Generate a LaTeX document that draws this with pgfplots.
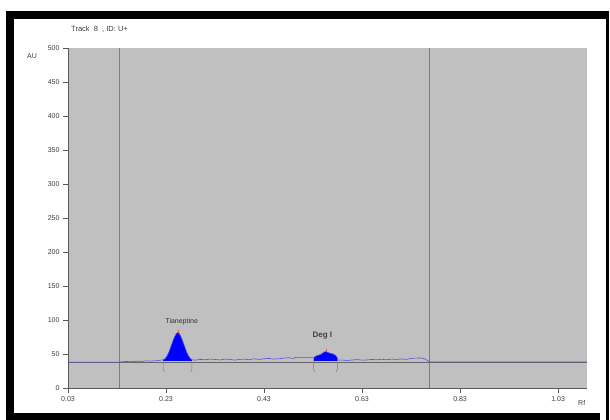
\documentclass[border=0pt]{standalone}
\usepackage{fontspec}
\setmainfont{Liberation Sans}
\usepackage{pgfplots}
\pgfplotsset{compat=1.18}
\definecolor{bggray}{RGB}{192,192,192}
\definecolor{tracec}{RGB}{80,80,230}
\definecolor{vlinec}{RGB}{105,135,135}
\definecolor{txtc}{RGB}{60,60,60}
\definecolor{brc}{RGB}{215,95,70}
\begin{document}
\begin{tikzpicture}
\path[use as bounding box] (0pt,0pt) rectangle (610pt,420pt);
% frame
\fill[black] (6pt,0pt) rectangle (14pt,409pt);
\fill[black] (6pt,401pt) rectangle (609pt,409pt);
\fill[black] (6pt,0pt) rectangle (600pt,7pt);
\fill[black] (606pt,0pt) rectangle (609pt,409pt);
\node[anchor=west,font=\fontsize{7.5}{8}\selectfont,text=txtc,inner sep=0pt] at (71pt,391pt) {Track \ 8 \ , ID: U+};
\node[anchor=west,font=\fontsize{7}{8}\selectfont,text=txtc,inner sep=0pt] at (27pt,364pt) {AU};
\node[anchor=west,font=\fontsize{7}{8}\selectfont,text=txtc,inner sep=0pt] at (578pt,17pt) {Rf};
\begin{axis}[
  scale only axis,
  width=519pt, height=340pt,
  at={(68pt,32pt)}, anchor=south west,
  xmin=0.03, xmax=1.089, ymin=0, ymax=500,
  axis background/.style={fill=bggray},
  axis x line*=bottom, axis y line*=left,
  axis line style={draw=black!65, -},
  tick align=outside,
  major tick length=5pt,
  tick style={draw=black!65, thin},
  ytick={0,50,...,500},
  xtick={0.03,0.23,0.43,0.63,0.83,1.03},
  xticklabels={0.03,0.23,0.43,0.63,0.83,1.03},
  yticklabel style={font=\fontsize{7}{8}\selectfont, text=txtc},
  xticklabel style={font=\fontsize{7}{8}\selectfont, text=txtc},
  /pgf/number format/assume math mode=true,
  clip=false,
]
% vertical lines
\addplot[vlinec, line width=0.6pt] coordinates {(0.134,0) (0.134,500)};
\addplot[vlinec, line width=0.6pt] coordinates {(0.767,0) (0.767,500)};
% baseline
\addplot[black!60, line width=0.6pt] coordinates {(0.03,37.5) (1.089,37.5)};
% filled peaks
\addplot[fill=blue, draw=none] coordinates {
(0.224,40.5) (0.228,43) (0.232,47) (0.236,53) (0.240,61) (0.244,69) (0.248,76) (0.251,80) (0.254,81.5) (0.257,80) (0.260,76) (0.264,69) (0.268,61) (0.272,53) (0.276,47) (0.280,43) (0.283,41) (0.283,40) (0.224,40)} -- cycle;
\addplot[fill=blue, draw=none] coordinates {
(0.531,40) (0.532,45) (0.536,47) (0.540,48) (0.545,49) (0.549,51) (0.553,53) (0.557,53.5) (0.561,52) (0.566,51) (0.571,50) (0.576,48) (0.579,45) (0.580,40)} -- cycle;
% trace
\addplot[tracec, line width=0.6pt] coordinates {
(0.03,38) (0.134,38) (0.14,38.5) (0.15,39) (0.16,38.5) (0.17,39.5) (0.18,39) (0.19,40) (0.20,39.5) (0.21,40.2) (0.218,40.8) (0.224,41.5)
(0.228,43) (0.232,47) (0.236,53) (0.240,61) (0.244,69) (0.248,76) (0.251,80) (0.254,81.5) (0.257,80) (0.260,76) (0.264,69) (0.268,61) (0.272,53) (0.276,47) (0.280,43) (0.283,41.5)
(0.29,41) (0.30,42) (0.31,41.5) (0.32,42.5) (0.33,42) (0.34,41.3) (0.35,42.5) (0.36,42) (0.37,41) (0.38,42) (0.39,42.5) (0.40,41.5) (0.41,43) (0.42,42) (0.43,43) (0.44,43.5) (0.45,42.5) (0.46,43) (0.47,44) (0.48,44.5) (0.49,43.5) (0.495,45) (0.53,45)
(0.532,45) (0.536,47) (0.540,48) (0.545,49) (0.549,51) (0.553,53) (0.557,53.5) (0.561,52) (0.566,51) (0.571,50) (0.576,48) (0.579,45) (0.581,41)
(0.59,41) (0.60,40.5) (0.61,41.2) (0.62,41.8) (0.63,41) (0.64,41.2) (0.65,42) (0.66,41.5) (0.67,42.2) (0.68,41.5) (0.69,42.5) (0.70,42) (0.71,42.8) (0.72,42) (0.73,43.5) (0.74,44) (0.75,44.2) (0.758,43) (0.764,40) (0.767,38.5) (1.089,38.5)};
% red brackets
\addplot[brc, line width=0.5pt] coordinates {(0.226,40) (0.224,36) (0.224,27) (0.227,24)};
\addplot[brc, line width=0.5pt] coordinates {(0.281,40) (0.283,36) (0.283,27) (0.280,24)};
\addplot[brc, line width=0.5pt] coordinates {(0.533,40) (0.531,36) (0.531,27) (0.534,24)};
\addplot[brc, line width=0.5pt] coordinates {(0.578,40) (0.580,36) (0.580,27) (0.577,24)};
\addplot[brc, line width=0.5pt] coordinates {(0.254,81.5) (0.254,86)};
\addplot[brc, line width=0.5pt] coordinates {(0.557,53.5) (0.557,58)};
% labels
\node[font=\fontsize{7}{8}\selectfont, text=black!80] at (axis cs:0.262,98) {Tianeptine};
\node[font=\fontsize{8}{9}\selectfont\bfseries, text=black!75] at (axis cs:0.549,77) {Deg I};
\end{axis}
\end{tikzpicture}
\end{document}
